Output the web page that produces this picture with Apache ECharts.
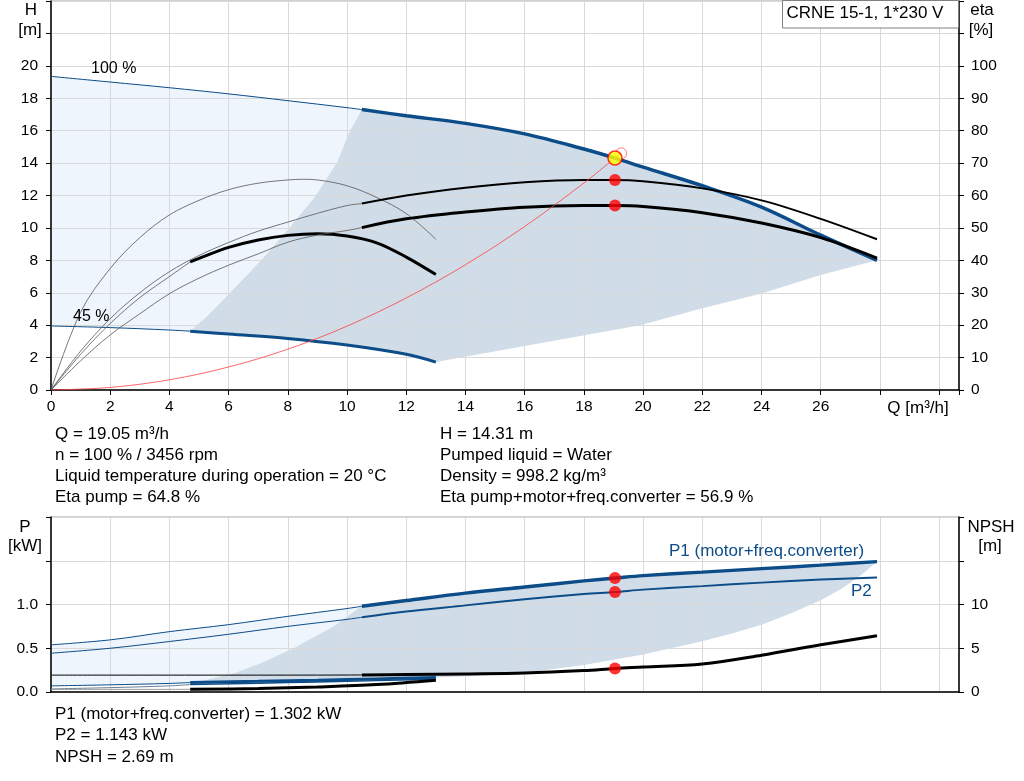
<!DOCTYPE html>
<html>
<head>
<meta charset="utf-8">
<script src="https://cdn.jsdelivr.net/npm/echarts@6/dist/echarts.min.js"></script>
<style>
html,body{margin:0;padding:0;background:#fff;}
#chart{width:1024px;height:781px;}
</style>
</head>
<body>
<div id="chart"></div>
<script>
// ---------- DATA ----------
// Head curves (H, m) vs flow Q (m3/h)
const h100Q = [0,2,4,6,8,10,10.5,12,14,16,18,19.05,20,22,24,26,27.9];
const h100H = [19.35,19.0,18.65,18.27,17.85,17.42,17.3,16.92,16.45,15.8,14.87,14.31,13.75,12.6,11.28,9.55,8.0];
const h45Q = [0,2,4,4.7,6,8,10,12,13];
const h45H = [3.95,3.85,3.7,3.63,3.45,3.18,2.77,2.2,1.72];
// Operating-range boundaries (top chart)
const hLeftQ = [4.7,5.3,6.05,7.1,8.05,8.95,9.65,10.1,10.5];
const hLeftH = [3.63,4.6,6,8,10,12,14,16,17.3];
const hLowQ = [13,16,19.9,22,24,26,27.9];
const hLowH = [1.72,2.72,4.0,5.04,5.95,7.1,8.0];
// Efficiency curves (%)
const etaAQ = [0,1,2,3,4,5,6,7,8,9,10,10.5,12,14,16,18,19.05,20,22,24,26,27.9];
const etaA  = [0,12,22,30,36.5,41.5,45.5,49,51.8,54.5,56.9,57.5,60,62.4,64.1,64.8,64.8,64.4,62.2,58.5,52.8,46.5];
const etaB  = [0,9,17,23.5,29.7,34.5,38.5,42,45.6,47.8,49.2,50.1,52.8,54.9,56.4,56.9,56.9,56.6,54.7,51.5,47,40.7];
const etaCQ = [0,1,2,3,4,5,6,7,8,8.5,9,10,11,12,13];
const etaC  = [0,24,37.5,47,54,58.5,61.8,63.8,64.8,65,64.8,63,59.4,54.4,46.5];
const etaDQ = [0,1,2,3,4,4.7,5,6,7,8,9,10,11,12,13];
const etaD  = [0,11,20.5,28.5,35,39.5,40.6,44,46.3,47.7,48.2,47.5,45.4,41,35.6];
// System curve
const sysQ = [0,2,4,6,8,10,12,14,16,18,19.05,19.26];
const sysH = [0,0.16,0.63,1.42,2.52,3.94,5.68,7.73,10.09,12.77,14.31,14.6];
// Power (kW) and NPSH (m)
const pQ   = [0,2,4,6,8,10,10.5,12,14,16,18,19.05,20,22,24,26,27.9];
const p1   = [0.539,0.596,0.69,0.77,0.865,0.954,0.98,1.045,1.13,1.2,1.27,1.302,1.33,1.37,1.41,1.45,1.49];
const p2   = [0.443,0.5,0.577,0.66,0.75,0.83,0.854,0.92,0.99,1.06,1.12,1.143,1.17,1.21,1.25,1.285,1.308];
const npsh = [1.93,1.93,1.93,1.93,1.93,1.94,1.95,2.0,2.07,2.17,2.45,2.69,2.85,3.2,4.2,5.4,6.43];
const p45Q  = [0,2,4,4.7,7,9,11,13];
const p1_45 = [0.07,0.082,0.098,0.108,0.122,0.135,0.15,0.165];
const p2_45 = [0.035,0.05,0.07,0.085,0.1,0.115,0.13,0.146];
const n_45  = [0.3,0.3,0.3,0.31,0.4,0.58,0.85,1.35];
// Operating-range boundaries (power chart)
const pLeftQ = [4.7,4.92,6.16,7.06,8.19,9.54,10.33,10.5];
const pLeftP = [0.108,0.115,0.212,0.327,0.5,0.75,0.942,0.98];
const pLowQ = [13,14.5,16,18,20,22,23,24,25,26,26.7,27.3,27.9];
const pLowP = [0.165,0.185,0.22,0.31,0.43,0.58,0.67,0.77,0.9,1.05,1.18,1.32,1.49];
// Duty point
const dutyQ = 19.05, dutyH = 14.31, dutyEtaP = 64.8, dutyEtaT = 56.9;
const dutyP1 = 1.302, dutyP2 = 1.143, dutyNPSH = 2.69;
const ringPt = [19.26, 14.6];
// Texts
const infoLeft = ['Q = 19.05 m³/h','n = 100 % / 3456 rpm','Liquid temperature during operation = 20 °C','Eta pump = 64.8 %'];
const infoRight = ['H = 14.31 m','Pumped liquid = Water','Density = 998.2 kg/m³','Eta pump+motor+freq.converter = 56.9 %'];
const infoBottom = ['P1 (motor+freq.converter) = 1.302 kW','P2 = 1.143 kW','NPSH = 2.69 m'];
const title = 'CRNE 15-1, 1*230 V';

// ---------- HELPERS ----------
const FONT = 'Liberation Sans, Arial, sans-serif';
const BLUE = '#0c4c88';
function pts(qs, vs, lo, hi) {
  const out = [];
  qs.forEach((q,i)=>{ if (q>=lo-1e-9 && q<=hi+1e-9) out.push([q, vs[i]]); });
  return out;
}
function line(x, y, qs, vs, lo, hi, color, width, smooth) {
  return { type:'line', xAxisIndex:x, yAxisIndex:y, data:pts(qs,vs,lo,hi), symbol:'none',
    smooth: smooth===undefined?0.35:smooth, silent:true, z:3,
    lineStyle:{color:color, width:width, cap:'butt'} };
}
function poly(x, y, points, color) {
  return { type:'custom', xAxisIndex:x, yAxisIndex:y, z:-1, silent:true, clip:true, data:[[0,0]],
    renderItem:(params, api)=>({ type:'polygon', shape:{ points: points.map(p=>api.coord(p)), smooth:0 },
      style:{ fill:color } }) };
}
function rev(a){ return a.slice().reverse(); }
const hLeft = pts(hLeftQ,hLeftH,0,99), hLow = pts(hLowQ,hLowH,0,99);
const lightTop = pts(h100Q,h100H,0,10.5).concat(rev(hLeft)).concat(rev(pts(h45Q,h45H,0,4.7)));
const darkTop = pts(h100Q,h100H,10.5,28).concat(rev(hLow)).concat(rev(pts(h45Q,h45H,4.7,13))).concat(hLeft);
const pLeft = pts(pLeftQ,pLeftP,0,99), pLow = pts(pLowQ,pLowP,0,99);
const lightBot = pts(pQ,p1,0,10.5).concat(rev(pLeft)).concat(rev(pts(p45Q,p1_45,0,4.7)));
const darkBot = pts(pQ,p1,10.5,28).concat(rev(pLow)).concat(rev(pts(p45Q,p1_45,4.7,13))).concat(pLeft);

function scatter(x, y, data, size, fill, stroke, bw) {
  return { type:'scatter', xAxisIndex:x, yAxisIndex:y, data:data, symbol:'circle', symbolSize:size, silent:true, z:10,
    itemStyle:{ color:fill, borderColor:stroke, borderWidth:bw } };
}

const axisBlack = { show:true, lineStyle:{ color:'#000', width:1.5 } };
const split = { show:true, lineStyle:{ color:'#d9d9d9', width:1 } };
const lbl = { color:'#000', fontSize:15.5, fontFamily:FONT };
const QMAX = 30.67;

function txt(x, y, s, align, color, size) {
  return { type:'text', x:x, y:y, z:50, silent:true,
    style:{ text:s, font:(size||17)+'px '+FONT, fill:color||'#000', textAlign:align||'left', textVerticalAlign:'middle' } };
}

const graphics = [
  txt(31,10,'H','center'), txt(30,30,'[m]','center'),
  txt(982,10,'eta','center'), txt(981,30,'[%]','center'),
  txt(918,408,'Q [m³/h]','center'),
  txt(25,527,'P','center'), txt(25,546,'[kW]','center'),
  txt(991,527,'NPSH','center'), txt(990,546,'[m]','center'),
  txt(91,69,'100 %','left','#000',16), txt(73,316.5,'45 %','left','#000',16),
  txt(669,551.5,'P1 (motor+freq.converter)','left',BLUE), txt(851,591.5,'P2','left',BLUE),
  { type:'rect', z:40, silent:true, shape:{x:782.5,y:0.5,width:176,height:27.5}, style:{fill:'#fff',stroke:'#808080',lineWidth:1} },
  txt(865,13,title,'center','#000',17)
];
infoLeft.forEach((s,i)=>graphics.push(txt(55,434+i*21,s,'left')));
infoRight.forEach((s,i)=>graphics.push(txt(440,434+i*21,s,'left')));
infoBottom.forEach((s,i)=>graphics.push(txt(55,714+i*21.5,s,'left')));

const option = {
  animation:false,
  backgroundColor:'#fff',
  grid:[
    { left:51, right:65, top:1, height:389, show:true, borderColor:'#a0a0a0', borderWidth:1, backgroundColor:'transparent' },
    { left:51, right:65, top:517, height:175, show:true, borderColor:'#a0a0a0', borderWidth:1, backgroundColor:'transparent' }
  ],
  xAxis:[
    { type:'value', gridIndex:0, min:0, max:QMAX, interval:2, axisLine:axisBlack,
      axisTick:{show:true, length:5, lineStyle:{color:'#000'}}, splitLine:split,
      axisLabel:Object.assign({margin:9, formatter:v=> v<=26 ? String(v) : ''}, lbl) },
    { type:'value', gridIndex:1, min:0, max:QMAX, interval:2, axisLine:axisBlack,
      axisTick:{show:false}, splitLine:split, axisLabel:{show:false} }
  ],
  yAxis:[
    { type:'value', gridIndex:0, min:0, max:24, interval:2, position:'left', axisLine:axisBlack,
      axisTick:{show:true, length:5, lineStyle:{color:'#000'}}, splitLine:split,
      axisLabel:Object.assign({margin:13, formatter:v=> v<=20 ? String(v) : ''}, lbl) },
    { type:'value', gridIndex:0, min:0, max:120, interval:10, position:'right', axisLine:axisBlack,
      axisTick:{show:true, length:5, lineStyle:{color:'#000'}}, splitLine:{show:false},
      axisLabel:Object.assign({margin:12, formatter:v=> v<=100 ? String(v) : ''}, lbl) },
    { type:'value', gridIndex:1, min:0, max:2, interval:0.5, position:'left', axisLine:axisBlack,
      axisTick:{show:true, length:5, lineStyle:{color:'#000'}}, splitLine:split,
      axisLabel:Object.assign({margin:13, formatter:v=> v<=1 ? v.toFixed(1) : ''}, lbl) },
    { type:'value', gridIndex:1, min:0, max:20, interval:5, position:'right', axisLine:axisBlack,
      axisTick:{show:true, length:5, lineStyle:{color:'#000'}}, splitLine:{show:false},
      axisLabel:Object.assign({margin:12, formatter:v=> v<=10 ? String(v) : ''}, lbl) }
  ],
  graphic:{ elements:graphics },
  series:[
    // fills
    poly(0,0,lightTop,'#eef5fd'),
    poly(0,0,darkTop,'#d0dce7'),
    poly(1,2,lightBot,'#eef5fd'),
    poly(1,2,darkBot,'#d0dce7'),
    // head curves
    line(0,0,h100Q,h100H,0,10.5,BLUE,1),
    line(0,0,h100Q,h100H,10.5,28,BLUE,3.5),
    line(0,0,h45Q,h45H,0,4.7,BLUE,1),
    line(0,0,h45Q,h45H,4.7,13,BLUE,3),
    // efficiency curves
    line(0,1,etaCQ,etaC,0,13,'#555',0.8),
    line(0,1,etaDQ,etaD,0,4.7,'#555',0.8),
    line(0,1,etaDQ,etaD,4.7,13,'#000',3),
    line(0,1,etaAQ,etaA,0,10.5,'#555',0.8),
    line(0,1,etaAQ,etaA,10.5,28,'#000',2),
    line(0,1,etaAQ,etaB,0,10.5,'#555',0.8),
    line(0,1,etaAQ,etaB,10.5,28,'#000',3),
    // system curve
    line(0,0,sysQ,sysH,0,20,'#ff4040',0.8),
    // power chart
    line(1,2,pQ,p1,0,10.5,BLUE,1),
    line(1,2,pQ,p1,10.5,28,BLUE,3.5),
    line(1,2,pQ,p2,0,10.5,BLUE,1),
    line(1,2,pQ,p2,10.5,28,BLUE,2),
    line(1,3,pQ,npsh,0,10.5,'#000',1),
    line(1,3,pQ,npsh,10.5,28,'#000',3),
    line(1,2,p45Q,p1_45,0,4.7,BLUE,1),
    line(1,2,p45Q,p1_45,4.7,13,BLUE,3),
    line(1,2,p45Q,p2_45,0,4.7,'#6a7f95',1),
    line(1,2,p45Q,p2_45,4.7,13,BLUE,1.5),
    line(1,3,p45Q,n_45,0,4.7,'#999',1),
    line(1,3,p45Q,n_45,4.7,13,'#000',3),
    // duty point markers
    scatter(0,0,[ringPt],11,'rgba(0,0,0,0)','#ff3030',0.8),
    scatter(0,0,[[dutyQ,dutyH]],14,'#ffff00','#ff0000',1.5),
    scatter(0,1,[[dutyQ,dutyEtaP],[dutyQ,dutyEtaT]],12,'#ff0000','#ff0000',0),
    scatter(1,2,[[dutyQ,dutyP1],[dutyQ,dutyP2]],12,'#ff0000','#ff0000',0),
    scatter(1,3,[[dutyQ,dutyNPSH]],12,'#ff0000','#ff0000',0)
  ]
};
const chart = echarts.init(document.getElementById('chart'), null, {renderer:'canvas'});
chart.setOption(option);
</script>
</body>
</html>
